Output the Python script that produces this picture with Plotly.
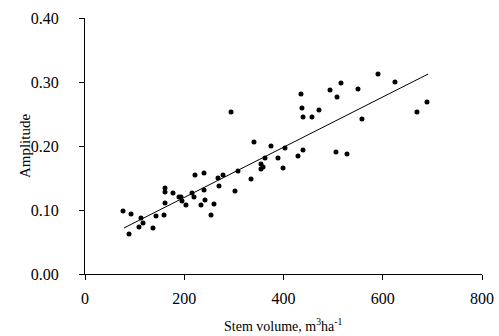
import plotly.graph_objects as go

stem_volume = [76.6, 92.7, 88.7, 112.8, 116.9, 108.8, 137.0, 143.1, 159.2, 161.2,
               161.2, 161.2, 177.3, 189.4, 193.4, 195.4, 203.5, 215.6, 219.6, 221.6,
               233.7, 239.8, 239.8, 241.8, 253.9, 259.9, 268.0, 270.0, 278.1, 294.2,
               302.2, 308.3, 334.5, 340.5, 354.6, 358.7, 354.6, 362.7, 374.8, 388.9,
               399.0, 403.0, 429.2, 439.3, 435.2, 437.2, 439.3, 457.4, 471.5, 493.7,
               507.8, 515.8, 505.7, 527.9, 550.1, 558.1, 590.4, 624.6, 669.0, 689.1]
amplitude = [0.0984, 0.0938, 0.0625, 0.0875, 0.0797, 0.0734, 0.0719, 0.0906, 0.0922, 0.1109,
             0.1281, 0.1344, 0.1266, 0.1203, 0.1203, 0.1141, 0.1078, 0.1266, 0.1203, 0.1547,
             0.1078, 0.1578, 0.1313, 0.1156, 0.0922, 0.1094, 0.1500, 0.1375, 0.1547, 0.2531,
             0.1297, 0.1609, 0.1484, 0.2063, 0.1719, 0.1672, 0.1641, 0.1813, 0.2000, 0.1813,
             0.1656, 0.1969, 0.1844, 0.1938, 0.2813, 0.2594, 0.2453, 0.2453, 0.2563, 0.2875,
             0.2766, 0.2984, 0.1906, 0.1875, 0.2891, 0.2422, 0.3125, 0.3000, 0.2531, 0.2688]

trend_x = [78.6, 691.5]
trend_y = [0.0719, 0.3125]

x_ticks = [0, 200, 400, 600, 800]
y_ticks = [0.0, 0.1, 0.2, 0.3, 0.4]

font = "Liberation Serif"
tick_font = dict(family=font, size=16, color="black")

fig = go.Figure()
fig.add_trace(go.Scatter(x=stem_volume, y=amplitude, mode="markers",
                         marker=dict(color="black", size=5), showlegend=False,
                         cliponaxis=False))
fig.add_trace(go.Scatter(x=trend_x, y=trend_y, mode="lines",
                         line=dict(color="black", width=1), showlegend=False))

fig.update_layout(
    width=499, height=336,
    margin=dict(l=85, r=17, t=18, b=62, autoexpand=False),
    paper_bgcolor="white", plot_bgcolor="white",
    font=dict(family=font, size=15, color="black"),
    xaxis=dict(range=[0, 800], tickvals=x_ticks, ticktext=[str(v) for v in x_ticks],
               showline=True, linecolor="black", linewidth=1, ticks="outside",
               ticklen=5, tickcolor="black", showgrid=False, zeroline=False,
               automargin=False, ticklabelstandoff=5, tickfont=tick_font,
               ticklabeloverflow="allow"),
    yaxis=dict(range=[0, 0.4], tickvals=y_ticks, tickformat=".2f",
               showline=True, linecolor="black", linewidth=1, ticks="outside",
               ticklen=5, tickcolor="black", showgrid=False, zeroline=False,
               automargin=False, ticklabelstandoff=17, tickfont=tick_font),
    annotations=[
        dict(text="Stem volume, m<sup>3</sup>ha<sup>-1</sup>", xref="paper", yref="paper",
             x=0.5, y=-0.2, xanchor="center", yanchor="middle", showarrow=False,
             font=dict(family=font, size=14, color="black")),
        dict(text="Amplitude", xref="paper", yref="paper", x=-0.151, y=0.5,
             xanchor="center", yanchor="middle", textangle=-90, showarrow=False,
             font=dict(family=font, size=15, color="black")),
    ],
)

# remove the default 8px page margin and scrollbars so the figure fills the window
fig.write_html(
    "out.html",
    config={"displayModeBar": False},
    post_script=(
        "document.documentElement.style.overflow='hidden';"
        "document.body.style.margin='0';document.body.style.overflow='hidden';"
    ),
)
